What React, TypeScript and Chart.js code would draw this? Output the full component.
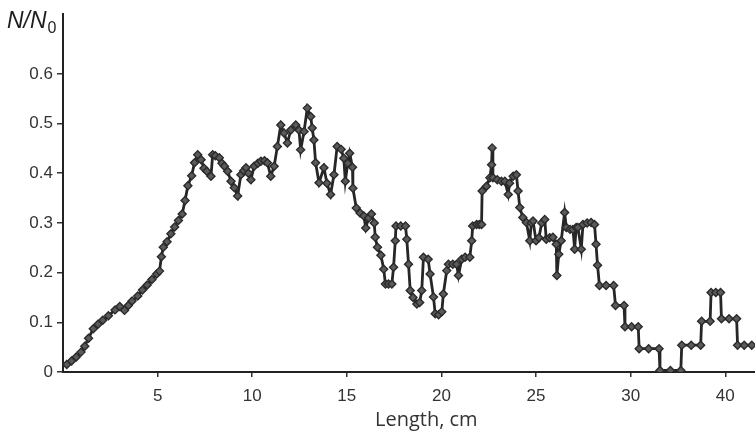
import React, { useEffect, useRef } from "react";
import { Chart, registerables } from "chart.js";

Chart.register(...registerables);

const lengths = [
  0.2, 0.45, 0.7, 0.95, 1.15, 1.35, 1.6, 1.85, 2.1, 2.4, 2.75, 3.0, 3.25, 3.45, 3.65, 3.95, 4.2, 4.45, 4.7, 4.95,
  5.1, 5.2, 5.3, 5.5, 5.7, 5.9, 6.1, 6.3, 6.45, 6.6, 6.8, 6.95, 7.12, 7.3, 7.45, 7.6, 7.82, 7.91, 8.05, 8.26,
  8.4, 8.53, 8.7, 8.88, 9.05, 9.23, 9.4, 9.55, 9.67, 9.8, 9.93, 10.1, 10.3, 10.46, 10.65, 10.8, 10.98, 11.16, 11.33, 11.51,
  11.68, 11.86, 12.04, 12.3, 12.47, 12.56, 12.74, 12.91, 13.09, 13.17, 13.26, 13.35, 13.53, 13.79, 13.95, 14.14, 14.32, 14.49, 14.7, 14.84,
  14.92, 15.05, 15.15, 15.3, 15.32, 15.5, 15.7, 15.9, 16.0, 16.15, 16.3, 16.45, 16.5, 16.62, 16.8, 16.95, 17.04, 17.2, 17.38, 17.47,
  17.56, 17.6, 17.85, 18.1, 18.17, 18.26, 18.35, 18.5, 18.7, 18.85, 18.96, 19.05, 19.3, 19.4, 19.58, 19.67, 19.85, 20.02, 20.1, 20.28,
  20.37, 20.6, 20.8, 20.9, 21.07, 21.25, 21.5, 21.6, 21.65, 21.86, 22.0, 22.12, 22.15, 22.38, 22.56, 22.65, 22.68, 22.72, 22.95, 23.17,
  23.35, 23.53, 23.6, 23.79, 23.96, 24.05, 24.14, 24.3, 24.49, 24.67, 24.75, 24.84, 25.0, 25.15, 25.3, 25.46, 25.54, 25.72, 25.89, 26.07,
  26.1, 26.2, 26.33, 26.51, 26.6, 26.8, 26.95, 27.04, 27.12, 27.21, 27.39, 27.48, 27.7, 27.91, 28.09, 28.17, 28.25, 28.35, 28.7, 29.1,
  29.2, 29.65, 29.7, 30.05, 30.4, 30.45, 30.95, 31.5, 31.55, 32.1, 32.65, 32.7, 33.2, 33.7, 33.75, 34.2, 34.25, 34.5, 34.75, 34.8,
  35.2, 35.6, 35.65, 36.0, 36.4,
];

const ratios = [
  0.015, 0.022, 0.03, 0.04, 0.052, 0.068, 0.087, 0.096, 0.104, 0.113, 0.125, 0.132, 0.124, 0.134, 0.143, 0.153, 0.165, 0.175, 0.186, 0.197,
  0.203, 0.232, 0.251, 0.262, 0.278, 0.292, 0.305, 0.318, 0.345, 0.375, 0.395, 0.421, 0.437, 0.427, 0.41, 0.404, 0.394, 0.437, 0.435, 0.431,
  0.42, 0.414, 0.404, 0.384, 0.371, 0.354, 0.397, 0.405, 0.411, 0.4, 0.387, 0.414, 0.42, 0.424, 0.425, 0.421, 0.394, 0.414, 0.454, 0.497,
  0.481, 0.461, 0.487, 0.497, 0.487, 0.447, 0.484, 0.531, 0.514, 0.491, 0.467, 0.421, 0.381, 0.411, 0.38, 0.357, 0.397, 0.454, 0.448, 0.43,
  0.384, 0.42, 0.44, 0.412, 0.37, 0.33, 0.32, 0.314, 0.29, 0.31, 0.318, 0.3, 0.271, 0.251, 0.235, 0.207, 0.177, 0.177, 0.177, 0.211,
  0.264, 0.294, 0.294, 0.294, 0.267, 0.217, 0.164, 0.15, 0.137, 0.14, 0.164, 0.231, 0.227, 0.197, 0.151, 0.117, 0.115, 0.121, 0.157, 0.204,
  0.217, 0.217, 0.217, 0.194, 0.227, 0.231, 0.231, 0.264, 0.294, 0.297, 0.297, 0.297, 0.364, 0.374, 0.391, 0.417, 0.451, 0.391, 0.387, 0.384,
  0.384, 0.357, 0.38, 0.394, 0.397, 0.364, 0.331, 0.311, 0.301, 0.264, 0.3, 0.304, 0.264, 0.27, 0.3, 0.307, 0.267, 0.27, 0.271, 0.257,
  0.194, 0.237, 0.264, 0.321, 0.291, 0.287, 0.287, 0.247, 0.291, 0.291, 0.247, 0.297, 0.3, 0.301, 0.297, 0.257, 0.215, 0.174, 0.174, 0.174,
  0.134, 0.134, 0.091, 0.091, 0.091, 0.047, 0.047, 0.047, 0.003, 0.003, 0.003, 0.054, 0.054, 0.054, 0.102, 0.102, 0.16, 0.16, 0.16, 0.107,
  0.107, 0.107, 0.054, 0.054, 0.054,
];

const xTickValues = [5, 10, 15, 20, 25, 30, 35];
const xTickLabels = ["5", "10", "15", "20", "25", "30", "40"];
const yTickValues = [0, 0.1, 0.2, 0.3, 0.4, 0.5, 0.6];
const yTickLabels = ["0", "0.1", "0.2", "0.3", "0.4", "0.5", "0.6"];

const labelFor = (values: number[], labels: string[], v: number) => {
  const i = values.findIndex((t) => Math.abs(t - v) < 1e-6);
  return i >= 0 ? labels[i] : "";
};

export default function App() {
  const ref = useRef<HTMLCanvasElement>(null);

  useEffect(() => {
    if (!ref.current) return;
    const yLabelPlugin = {
      id: "nLabel",
      afterDraw(chart: any) {
        const ctx = chart.ctx;
        ctx.save();
        ctx.fillStyle = "#1e1e1e";
        ctx.textBaseline = "alphabetic";
        ctx.textAlign = "left";
        ctx.font = 'italic 23px "Liberation Sans", Arial, sans-serif';
        ctx.fillText("N/N", 7, 28);
        const w = ctx.measureText("N/N").width;
        ctx.font = '16px "Liberation Sans", Arial, sans-serif';
        ctx.fillText("0", 7 + w + 1, 33);
        ctx.restore();
      },
    };

    const chart = new Chart(ref.current, {
      type: "line",
      data: {
        datasets: [
          {
            data: lengths.map((x, i) => ({ x, y: ratios[i] })),
            borderColor: "#262626",
            borderWidth: 2.8,
            pointStyle: "rectRot",
            pointRadius: 4,
            pointBackgroundColor: "#5a5a5a",
            pointBorderColor: "#2a2a2a",
            pointBorderWidth: 1.4,
            tension: 0,
            fill: false,
          },
        ],
      },
      options: {
        animation: false,
        responsive: false,
        layout: { padding: { top: 12, right: 0, bottom: 0, left: 0 } },
        plugins: { legend: { display: false }, tooltip: { enabled: false } },
        scales: {
          x: {
            type: "linear",
            min: 0,
            max: 38.4,
            afterBuildTicks: (s: any) => {
              s.ticks = xTickValues.map((v) => ({ value: v }));
            },
            afterFit: (s: any) => {
              s.height = 62;
            },
            ticks: {
              callback: (v: any) => labelFor(xTickValues, xTickLabels, Number(v)),
              font: { family: '"Liberation Sans", Arial, sans-serif', size: 17 },
              color: "#333",
              padding: 9,
              maxRotation: 0,
              autoSkip: false,
            },
            grid: { drawOnChartArea: false, tickLength: 5, color: "#333", lineWidth: 1.5 },
            border: { color: "#222", width: 2 },
            title: {
              display: true,
              text: "Length, cm",
              font: { family: '"Open Sans", "Noto Sans", sans-serif', size: 20 },
              color: "#333",
              padding: { top: 0, bottom: 2 },
            },
          },
          y: {
            type: "linear",
            min: 0,
            max: 0.72,
            afterBuildTicks: (s: any) => {
              s.ticks = yTickValues.map((v) => ({ value: v }));
            },
            afterFit: (s: any) => {
              s.width = 63;
            },
            ticks: {
              callback: (v: any) => labelFor(yTickValues, yTickLabels, Number(v)),
              font: { family: '"Liberation Sans", Arial, sans-serif', size: 17 },
              color: "#333",
              padding: 4,
              autoSkip: false,
            },
            grid: { drawOnChartArea: false, tickLength: 6, color: "#333", lineWidth: 1.5 },
            border: { color: "#222", width: 2 },
          },
        },
      },
      plugins: [yLabelPlugin],
    } as any);

    return () => chart.destroy();
  }, []);

  return (
    <div
      style={{
        position: "fixed",
        left: 0,
        top: 0,
        width: 755,
        height: 434,
        overflow: "hidden",
        background: "#fff",
      }}
    >
      <canvas ref={ref} width={795} height={434} style={{ display: "block" }} />
    </div>
  );
}
